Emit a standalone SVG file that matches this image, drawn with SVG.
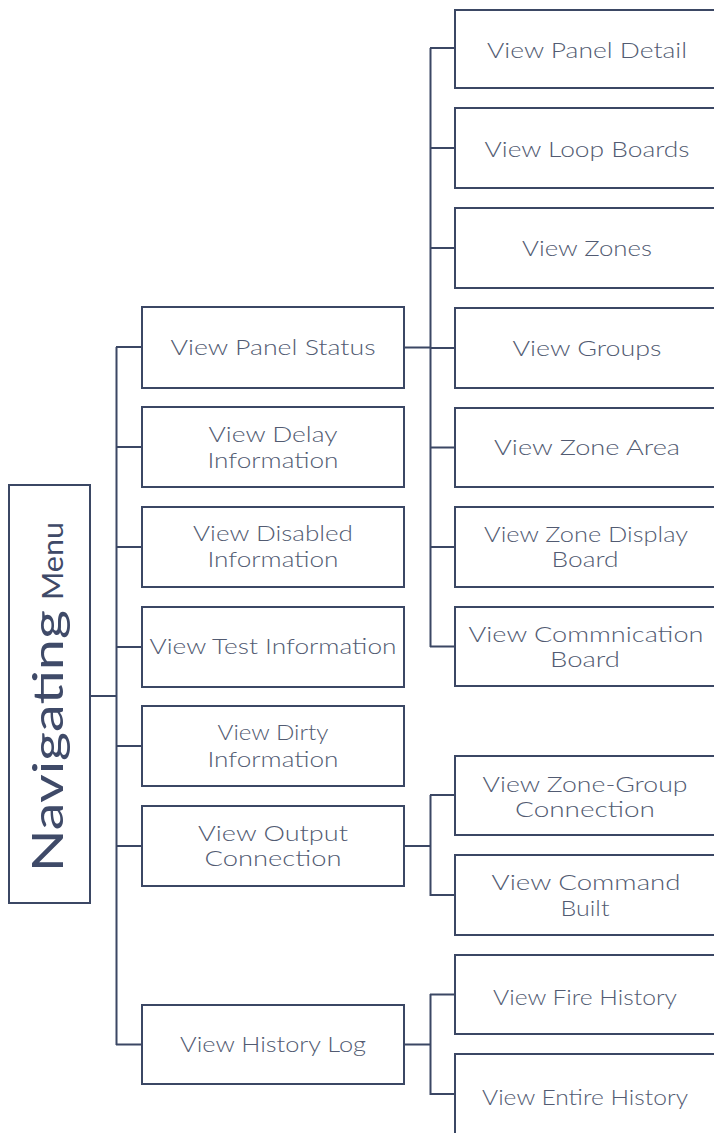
<svg xmlns="http://www.w3.org/2000/svg" width="714" height="1133" viewBox="0 0 714 1133">
<style>
.box{fill:#ffffff;stroke:#3b4764;stroke-width:2}
.ln{fill:none;stroke:#3b4764;stroke-width:2}
.t{font-family:Lato,"Liberation Sans",sans-serif;font-size:22px;font-weight:300;fill:#525b72;text-anchor:middle}
.s{font-size:21px}
</style>
<rect width="714" height="1133" fill="#ffffff"/>
<g id="connectors">
<path class="ln" d="M90,696H117M116.5,347V1045M116,347H142M116,447H142M116,547H142M116,647H142M116,746H142M116,846H142M116,1044.5H142"/>
<path class="ln" d="M404,347.5H430M430.5,48V647M430,48H455M430,148H455M430,248H455M430,348H455M430,447.5H455M430,547H455M430,646.5H455"/>
<path class="ln" d="M404,846H430M430.5,795V896M430,795H455M430,895H455"/>
<path class="ln" d="M404,1044.5H430M430.5,994V1095M430,994.5H455M430,1094H455"/>
</g>
<g id="root">
<rect class="box" x="9" y="485" width="81" height="418"/>
<text transform="translate(63,872) rotate(-90)" style="font-family:Lato,'Liberation Sans',sans-serif;font-weight:400;fill:#3f4a68"><tspan font-size="42" textLength="262" lengthAdjust="spacingAndGlyphs">Navigating</tspan><tspan x="272" font-size="28" textLength="78" lengthAdjust="spacingAndGlyphs">Menu</tspan></text>
</g>
<g id="view-panel-status"><rect class="box" x="142" y="307" width="262" height="81"/><text class="t" x="273" y="355" textLength="205" lengthAdjust="spacingAndGlyphs">View Panel Status</text></g>
<g id="view-delay"><rect class="box" x="142" y="407" width="262" height="80"/><text class="t s" x="273" y="442" textLength="129" lengthAdjust="spacingAndGlyphs">View Delay</text><text class="t s" x="273" y="468" textLength="131" lengthAdjust="spacingAndGlyphs">Information</text></g>
<g id="view-disabled"><rect class="box" x="142" y="507" width="262" height="80"/><text class="t s" x="273" y="541" textLength="160" lengthAdjust="spacingAndGlyphs">View Disabled</text><text class="t s" x="273" y="567" textLength="131" lengthAdjust="spacingAndGlyphs">Information</text></g>
<g id="view-test"><rect class="box" x="142" y="607" width="262" height="80"/><text class="t" x="273" y="654" textLength="247" lengthAdjust="spacingAndGlyphs">View Test Information</text></g>
<g id="view-dirty"><rect class="box" x="142" y="706" width="262" height="80"/><text class="t s" x="273" y="740" textLength="111" lengthAdjust="spacingAndGlyphs">View Dirty</text><text class="t s" x="273" y="767" textLength="131" lengthAdjust="spacingAndGlyphs">Information</text></g>
<g id="view-output"><rect class="box" x="142" y="806" width="262" height="80"/><text class="t s" x="273" y="841" textLength="150" lengthAdjust="spacingAndGlyphs">View Output</text><text class="t s" x="273" y="866" textLength="137" lengthAdjust="spacingAndGlyphs">Connection</text></g>
<g id="view-history-log"><rect class="box" x="142" y="1005" width="262" height="79"/><text class="t" x="273" y="1052" textLength="186" lengthAdjust="spacingAndGlyphs">View History Log</text></g>
<g id="view-panel-detail"><rect class="box" x="455" y="10" width="264" height="78"/><text class="t" x="587" y="58" textLength="200" lengthAdjust="spacingAndGlyphs">View Panel Detail</text></g>
<g id="view-loop-boards"><rect class="box" x="455" y="108" width="264" height="80"/><text class="t" x="587" y="157" textLength="205" lengthAdjust="spacingAndGlyphs">View Loop Boards</text></g>
<g id="view-zones"><rect class="box" x="455" y="208" width="264" height="80"/><text class="t" x="587" y="256" textLength="130" lengthAdjust="spacingAndGlyphs">View Zones</text></g>
<g id="view-groups"><rect class="box" x="455" y="308" width="264" height="80"/><text class="t" x="587" y="356" textLength="149" lengthAdjust="spacingAndGlyphs">View Groups</text></g>
<g id="view-zone-area"><rect class="box" x="455" y="408" width="264" height="79"/><text class="t" x="587" y="455" textLength="186" lengthAdjust="spacingAndGlyphs">View Zone Area</text></g>
<g id="view-zone-display-board"><rect class="box" x="455" y="507" width="264" height="80"/><text class="t s" x="586" y="542" textLength="204" lengthAdjust="spacingAndGlyphs">View Zone Display</text><text class="t s" x="585" y="567" textLength="67" lengthAdjust="spacingAndGlyphs">Board</text></g>
<g id="view-commnication-board"><rect class="box" x="455" y="607" width="264" height="79"/><text class="t s" x="586" y="642" textLength="235" lengthAdjust="spacingAndGlyphs">View Commnication</text><text class="t s" x="585" y="667" textLength="70" lengthAdjust="spacingAndGlyphs">Board</text></g>
<g id="view-zone-group-connection"><rect class="box" x="455" y="756" width="264" height="79"/><text class="t s" x="585" y="792" textLength="205" lengthAdjust="spacingAndGlyphs">View Zone-Group</text><text class="t s" x="585" y="817" textLength="140" lengthAdjust="spacingAndGlyphs">Connection</text></g>
<g id="view-command-built"><rect class="box" x="455" y="855" width="264" height="80"/><text class="t s" x="586" y="890" textLength="189" lengthAdjust="spacingAndGlyphs">View Command</text><text class="t s" x="585" y="916" textLength="49" lengthAdjust="spacingAndGlyphs">Built</text></g>
<g id="view-fire-history"><rect class="box" x="455" y="955" width="264" height="79"/><text class="t" x="585" y="1005" textLength="184" lengthAdjust="spacingAndGlyphs">View Fire History</text></g>
<g id="view-entire-history"><rect class="box" x="455" y="1054" width="264" height="90"/><text class="t" x="585" y="1105" textLength="206" lengthAdjust="spacingAndGlyphs">View Entire History</text></g>
</svg>
